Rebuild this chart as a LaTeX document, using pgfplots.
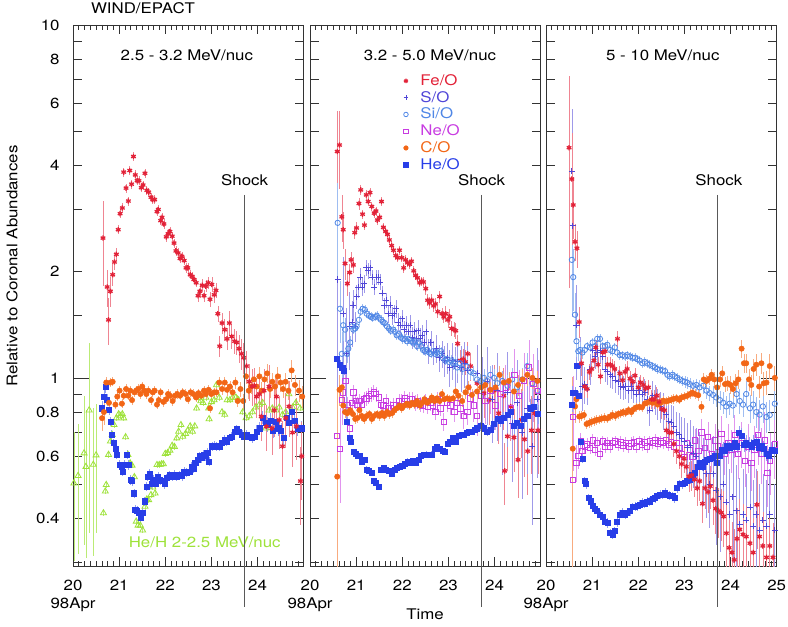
\documentclass[border=0pt]{standalone}
\usepackage{fontspec}
\setmainfont{TeX Gyre Heros}[FakeStretch=1.15]
\usepackage{pgfplots}
\usepackage{pgfplotstable}
\pgfplotsset{compat=1.18}
\definecolor{feo}{RGB}{226,34,56}
\definecolor{so}{RGB}{80,70,215}
\definecolor{sio}{RGB}{80,135,230}
\definecolor{neo}{RGB}{200,60,225}
\definecolor{co}{RGB}{242,102,22}
\definecolor{heo}{RGB}{40,62,232}
\definecolor{heh}{RGB}{158,226,58}
\newcommand\ff{\fontsize{11}{13.5}\selectfont}
\pgfplotsset{
  eb/.style={/pgfplots/error bars/y dir=both, /pgfplots/error bars/y explicit relative,
    /pgfplots/error bars/error mark=none,
    /pgfplots/error bars/error bar style={#1, line width=0.5pt}},
  pfe/.style={only marks, mark=asterisk, color=feo, mark size=2pt, mark options={line width=0.95pt}},
  pso/.style={only marks, mark=+, color=so, mark size=2.3pt, mark options={line width=0.6pt}},
  psi/.style={only marks, mark=o, color=sio, mark size=2pt, mark options={line width=0.6pt}},
  pne/.style={only marks, mark=square, color=neo, mark size=2pt, mark options={line width=0.6pt}},
  pco/.style={only marks, mark=*, color=co, mark size=2pt},
  phe/.style={only marks, mark=square*, color=heo, mark size=1.9pt},
  phh/.style={only marks, mark=triangle, color=heh, mark size=2.6pt, mark options={line width=0.6pt}},
}
\begin{document}
% ---------------- Panel 1 ----------------
\pgfplotstableread{
x y e
20.65 2.49 0.27
20.74 1.81 0.12
20.77 1.46 0.15
20.81 1.76 0.10
20.86 1.96 0.07
20.90 2.13 0.05
20.94 2.24 0.04
20.98 2.63 0.03
21.02 2.92 0.03
21.07 3.03 0.03
21.10 3.83 0.03
21.15 3.45 0.03
21.20 3.17 0.03
21.23 3.87 0.03
21.27 3.54 0.03
21.31 4.24 0.03
21.35 3.76 0.03
21.39 3.62 0.03
21.43 3.62 0.03
21.48 3.46 0.03
21.52 3.52 0.03
21.56 3.80 0.03
21.60 3.40 0.03
21.64 3.36 0.03
21.69 3.25 0.03
21.73 3.20 0.03
21.77 3.20 0.03
21.82 2.96 0.03
21.85 3.00 0.03
21.90 2.79 0.03
21.93 2.85 0.03
21.97 2.73 0.03
22.02 2.51 0.03
22.06 2.56 0.03
22.10 2.60 0.03
22.15 2.52 0.03
22.19 2.41 0.03
22.23 2.29 0.03
22.28 2.26 0.03
22.32 2.18 0.03
22.36 2.21 0.03
22.41 2.15 0.03
22.45 2.05 0.03
22.49 2.05 0.03
22.54 1.96 0.03
22.58 1.94 0.03
22.62 1.90 0.03
22.67 1.86 0.03
22.71 1.71 0.04
22.75 1.76 0.04
22.80 1.83 0.04
22.84 1.71 0.04
22.88 1.82 0.04
22.93 1.86 0.04
22.97 1.67 0.05
23.01 1.84 0.05
23.06 1.72 0.05
23.10 1.77 0.05
23.14 1.52 0.05
23.18 1.23 0.07
23.23 1.43 0.07
23.29 1.37 0.07
23.34 1.29 0.07
23.39 1.43 0.08
23.44 1.31 0.08
23.50 1.27 0.08
23.55 1.26 0.08
23.60 1.21 0.09
23.65 1.17 0.10
23.70 1.14 0.10
23.76 1.08 0.10
23.82 0.976 0.12
23.88 0.945 0.12
23.93 0.95 0.12
23.98 0.885 0.13
24.04 0.90 0.13
24.08 0.777 0.15
24.14 0.92 0.15
24.19 0.728 0.15
24.25 0.945 0.15
24.31 0.72 0.16
24.36 0.81 0.16
24.41 0.885 0.16
24.47 0.76 0.17
24.54 0.64 0.18
24.61 0.77 0.18
24.68 0.83 0.18
24.76 0.70 0.20
24.84 0.73 0.20
24.93 0.51 0.25
24.96 0.60 0.25
}\pOneFe
\pgfplotstableread{
x y e
20.63 0.769 0.08
20.67 0.80 0.08
20.72 0.97 0.04
20.78 0.85 0.04
20.81 0.97 0.03
20.86 0.975 0.03
20.92 0.84 0.03
20.96 0.885 0.03
21.01 0.92 0.03
21.06 0.845 0.03
21.10 0.89 0.03
21.15 0.93 0.03
21.20 0.89 0.03
21.24 0.92 0.03
21.28 0.865 0.03
21.33 0.91 0.03
21.37 0.92 0.03
21.41 0.93 0.03
21.46 0.90 0.03
21.50 0.945 0.03
21.54 0.92 0.03
21.59 0.90 0.03
21.63 0.92 0.03
21.69 0.865 0.03
21.73 0.91 0.03
21.77 0.92 0.03
21.82 0.84 0.03
21.86 0.865 0.03
21.90 0.91 0.03
21.96 0.855 0.03
22.02 0.87 0.03
22.06 0.90 0.03
22.10 0.89 0.03
22.16 0.86 0.03
22.21 0.89 0.03
22.26 0.90 0.03
22.32 0.89 0.03
22.38 0.91 0.03
22.44 0.90 0.03
22.49 0.87 0.03
22.55 0.91 0.03
22.61 0.90 0.03
22.67 0.88 0.03
22.72 0.905 0.03
22.78 0.89 0.03
22.84 0.92 0.03
22.88 0.90 0.03
22.94 0.925 0.03
22.97 0.82 0.03
23.00 0.90 0.03
23.06 0.91 0.03
23.11 0.91 0.03
23.17 0.97 0.04
23.23 0.93 0.04
23.29 0.97 0.04
23.34 0.925 0.04
23.40 0.945 0.04
23.46 0.91 0.04
23.52 0.97 0.04
23.57 0.86 0.04
23.63 0.93 0.05
23.69 0.86 0.05
23.75 1.01 0.05
23.81 0.92 0.05
23.86 0.945 0.05
23.92 0.99 0.05
23.98 0.945 0.05
24.04 1.01 0.06
24.09 0.92 0.06
24.15 0.99 0.06
24.21 1.03 0.06
24.27 0.93 0.06
24.32 0.975 0.06
24.38 0.945 0.06
24.44 1.01 0.06
24.50 0.97 0.06
24.55 0.93 0.06
24.61 0.975 0.06
24.67 0.92 0.06
24.74 1.05 0.07
24.81 0.955 0.07
24.90 0.92 0.07
24.97 0.885 0.07
}\pOneC
\pgfplotstableread{
x y e
20.63 0.82 0.05
20.67 0.885 0.05
20.71 0.945 0.04
20.74 0.866 0.04
20.78 0.81 0.03
20.81 0.751 0.03
20.84 0.69 0.03
20.88 0.653 0.03
20.92 0.63 0.03
20.95 0.606 0.03
21.01 0.567 0.03
21.05 0.56 0.03
21.08 0.543 0.03
21.12 0.567 0.03
21.17 0.606 0.03
21.21 0.567 0.03
21.25 0.514 0.03
21.28 0.51 0.03
21.32 0.471 0.03
21.35 0.423 0.03
21.39 0.42 0.03
21.43 0.415 0.03
21.47 0.401 0.03
21.51 0.415 0.03
21.55 0.447 0.03
21.59 0.492 0.03
21.62 0.525 0.03
21.66 0.535 0.03
21.70 0.50 0.03
21.74 0.514 0.03
21.79 0.50 0.03
21.84 0.525 0.03
21.89 0.514 0.03
21.93 0.51 0.03
21.98 0.50 0.03
22.03 0.52 0.03
22.09 0.53 0.03
22.15 0.525 0.03
22.20 0.533 0.03
22.25 0.525 0.03
22.31 0.53 0.03
22.36 0.527 0.03
22.41 0.543 0.03
22.46 0.54 0.03
22.52 0.543 0.03
22.57 0.56 0.03
22.61 0.554 0.03
22.65 0.573 0.03
22.70 0.586 0.03
22.74 0.60 0.03
22.78 0.593 0.03
22.83 0.606 0.03
22.87 0.60 0.03
22.91 0.613 0.03
22.95 0.58 0.03
23.01 0.64 0.03
23.06 0.643 0.03
23.11 0.638 0.03
23.17 0.64 0.03
23.23 0.653 0.03
23.28 0.668 0.03
23.33 0.66 0.03
23.39 0.675 0.03
23.44 0.682 0.03
23.50 0.705 0.03
23.55 0.716 0.03
23.60 0.705 0.03
23.66 0.69 0.03
23.71 0.682 0.03
23.76 0.69 0.03
23.82 0.682 0.03
23.88 0.675 0.03
23.93 0.682 0.03
23.98 0.705 0.04
24.04 0.72 0.04
24.11 0.773 0.04
24.17 0.745 0.04
24.22 0.738 0.05
24.28 0.755 0.05
24.34 0.71 0.05
24.40 0.75 0.05
24.45 0.72 0.05
24.51 0.71 0.05
24.57 0.675 0.05
24.63 0.773 0.05
24.68 0.745 0.05
24.74 0.80 0.05
24.80 0.755 0.05
24.87 0.72 0.05
24.96 0.72 0.05
}\pOneHe
\pgfplotstableread{
x y e
20.02 0.503 0.40
20.11 0.528 0.40
20.24 0.612 0.45
20.28 0.56 0.45
20.35 0.81 0.55
20.44 0.568 0.45
20.50 0.604 0.40
20.66 0.414 0.02
20.70 0.477 0.02
20.72 0.498 0.02
20.77 0.606 0.02
20.81 0.661 0.02
20.85 0.69 0.02
20.89 0.736 0.02
20.94 0.769 0.02
20.99 0.79 0.02
21.03 0.78 0.02
21.07 0.79 0.02
21.10 0.769 0.02
21.14 0.68 0.02
21.19 0.606 0.02
21.24 0.573 0.02
21.28 0.565 0.02
21.33 0.524 0.02
21.37 0.392 0.02
21.41 0.382 0.02
21.46 0.382 0.02
21.51 0.37 0.02
21.56 0.432 0.02
21.60 0.453 0.02
21.64 0.451 0.02
21.69 0.466 0.02
21.73 0.49 0.02
21.78 0.471 0.02
21.82 0.567 0.02
21.87 0.567 0.02
21.92 0.57 0.02
21.96 0.57 0.02
22.00 0.61 0.02
22.05 0.613 0.02
22.10 0.623 0.02
22.15 0.643 0.02
22.20 0.638 0.02
22.25 0.675 0.02
22.29 0.705 0.02
22.34 0.736 0.02
22.38 0.682 0.02
22.44 0.695 0.02
22.49 0.71 0.02
22.54 0.73 0.02
22.59 0.705 0.02
22.64 0.73 0.02
22.68 0.82 0.02
22.72 0.88 0.02
22.77 0.86 0.02
22.82 0.85 0.02
22.88 0.88 0.02
22.94 0.82 0.02
22.95 0.765 0.02
23.00 0.855 0.02
23.06 0.865 0.02
23.11 0.955 0.02
23.17 0.88 0.02
23.23 0.80 0.02
23.29 0.787 0.02
23.34 0.865 0.02
23.40 0.865 0.02
23.46 0.88 0.02
23.53 0.88 0.02
23.59 0.865 0.02
23.68 0.80 0.02
23.75 0.77 0.02
23.82 0.78 0.02
23.89 0.80 0.02
23.96 0.825 0.02
24.04 0.84 0.02
24.11 0.85 0.02
24.18 0.72 0.02
24.25 0.81 0.02
24.32 0.82 0.02
24.40 0.81 0.02
24.47 0.825 0.02
24.54 0.787 0.02
24.61 0.80 0.02
24.68 0.90 0.02
24.76 0.825 0.02
24.83 0.85 0.02
24.92 0.82 0.02
}\pOneHH
% ---------------- Panel 2 ----------------
\pgfplotstableread{
x y e
20.59 4.38 0.30
20.64 4.57 0.25
20.69 2.86 0.15
20.72 2.63 0.12
20.76 2.11 0.10
20.81 1.85 0.08
20.86 1.99 0.06
20.89 2.16 0.05
20.94 2.09 0.05
20.97 2.58 0.04
21.01 2.66 0.04
21.06 3.12 0.04
21.10 3.41 0.03
21.14 2.91 0.03
21.18 2.71 0.03
21.22 3.30 0.03
21.26 3.16 0.03
21.30 3.35 0.03
21.34 3.06 0.03
21.39 2.93 0.03
21.43 2.97 0.03
21.46 2.80 0.03
21.51 2.85 0.03
21.55 3.16 0.03
21.59 2.67 0.03
21.64 2.60 0.03
21.68 2.55 0.03
21.72 2.46 0.03
21.77 2.37 0.03
21.81 2.30 0.03
21.86 2.22 0.03
21.90 2.19 0.03
21.94 2.30 0.03
21.99 2.19 0.03
22.03 2.05 0.03
22.07 2.16 0.03
22.12 2.12 0.03
22.16 2.10 0.03
22.20 2.14 0.03
22.25 2.01 0.03
22.29 1.95 0.03
22.33 1.92 0.03
22.38 1.86 0.03
22.42 1.88 0.03
22.46 1.87 0.03
22.51 1.79 0.04
22.55 1.66 0.04
22.59 1.63 0.04
22.64 1.66 0.04
22.68 1.60 0.04
22.72 1.62 0.04
22.77 1.54 0.04
22.81 1.70 0.04
22.86 1.52 0.04
22.90 1.49 0.04
22.94 1.52 0.05
22.99 1.46 0.05
23.03 1.49 0.05
23.07 1.38 0.05
23.12 1.37 0.05
23.16 1.36 0.05
23.20 1.25 0.06
23.26 1.12 0.07
23.32 1.13 0.07
23.37 1.11 0.08
23.42 1.17 0.08
23.48 1.08 0.09
23.62 0.966 0.12
23.77 0.905 0.15
23.88 0.866 0.15
23.99 0.92 0.18
24.09 0.794 0.18
24.20 0.89 0.2
24.22 0.545 0.2
24.28 0.683 0.2
24.35 0.83 0.2
24.42 0.678 0.2
24.51 0.586 0.22
24.58 0.76 0.22
24.65 0.67 0.22
24.72 0.62 0.25
24.80 0.71 0.25
24.87 0.794 0.25
24.94 0.71 0.25
}\pTwoFe
\pgfplotstableread{
x y e
20.60 1.90 0.70
20.72 1.52 0.45
20.78 1.17 0.35
20.86 1.40 0.25
20.91 1.44 0.15
20.94 1.61 0.10
20.98 1.40 0.10
21.01 1.70 0.08
21.05 1.81 0.07
21.09 1.93 0.06
21.13 1.81 0.06
21.17 1.85 0.06
21.22 2.05 0.05
21.26 2.01 0.05
21.30 2.05 0.05
21.35 1.93 0.05
21.39 1.81 0.05
21.43 1.93 0.05
21.48 1.93 0.05
21.52 1.87 0.05
21.57 1.74 0.05
21.61 1.60 0.05
21.65 1.66 0.05
21.70 1.52 0.06
21.74 1.61 0.06
21.78 1.50 0.06
21.83 1.52 0.06
21.87 1.57 0.06
21.91 1.44 0.06
21.96 1.41 0.06
22.00 1.47 0.06
22.04 1.37 0.06
22.09 1.41 0.06
22.13 1.35 0.06
22.17 1.41 0.07
22.22 1.30 0.07
22.26 1.35 0.07
22.30 1.29 0.07
22.35 1.36 0.07
22.39 1.29 0.07
22.43 1.32 0.07
22.48 1.26 0.08
22.52 1.35 0.08
22.57 1.19 0.08
22.62 1.26 0.08
22.68 1.18 0.08
22.74 1.21 0.09
22.80 1.14 0.09
22.86 1.17 0.09
22.91 1.12 0.10
22.97 1.14 0.10
23.03 1.07 0.12
23.09 1.12 0.12
23.14 1.08 0.13
23.20 1.11 0.13
23.28 1.07 0.15
23.35 1.10 0.15
23.42 1.05 0.17
23.62 1.03 0.2
23.73 0.94 0.22
23.84 0.98 0.25
23.95 0.87 0.25
24.06 0.92 0.28
24.17 0.76 0.3
24.28 0.91 0.3
24.38 0.745 0.32
24.49 0.85 0.32
24.60 0.70 0.35
24.71 0.82 0.35
24.82 0.64 0.4
24.93 0.87 0.4
}\pTwoS
\pgfplotstableread{
x y e
20.60 2.75 0.30
20.65 1.57 0.20
20.69 1.17 0.15
20.72 1.41 0.10
20.76 1.37 0.08
20.80 1.17 0.06
20.83 1.21 0.05
20.87 1.26 0.04
20.91 1.40 0.03
20.94 1.37 0.03
20.98 1.38 0.03
21.01 1.40 0.03
21.06 1.46 0.03
21.10 1.54 0.03
21.14 1.57 0.03
21.19 1.56 0.03
21.23 1.52 0.03
21.28 1.50 0.03
21.32 1.49 0.03
21.36 1.48 0.03
21.41 1.49 0.03
21.45 1.50 0.03
21.49 1.48 0.03
21.54 1.46 0.03
21.58 1.44 0.03
21.62 1.43 0.03
21.67 1.40 0.03
21.71 1.38 0.03
21.75 1.36 0.03
21.80 1.37 0.03
21.84 1.35 0.03
21.88 1.32 0.03
21.93 1.33 0.03
21.97 1.30 0.03
22.01 1.29 0.03
22.06 1.29 0.03
22.10 1.27 0.03
22.14 1.29 0.03
22.19 1.27 0.03
22.23 1.26 0.03
22.28 1.27 0.03
22.32 1.23 0.03
22.36 1.26 0.03
22.41 1.23 0.03
22.45 1.20 0.03
22.49 1.19 0.03
22.54 1.20 0.03
22.58 1.18 0.03
22.62 1.17 0.03
22.67 1.19 0.03
22.71 1.17 0.03
22.75 1.18 0.03
22.80 1.17 0.03
22.84 1.19 0.03
22.88 1.14 0.03
22.93 1.12 0.03
22.97 1.13 0.03
23.01 1.11 0.04
23.06 1.12 0.04
23.10 1.10 0.04
23.14 1.11 0.04
23.19 1.07 0.04
23.25 1.10 0.04
23.30 1.06 0.04
23.40 1.077 0.05
23.48 1.04 0.05
23.55 1.03 0.05
23.62 0.99 0.05
23.70 0.98 0.05
23.77 1.00 0.06
23.84 0.98 0.06
23.91 1.02 0.06
23.99 1.00 0.06
24.06 0.966 0.07
24.17 0.98 0.07
24.28 0.95 0.07
24.38 0.99 0.08
24.49 0.94 0.08
24.60 0.99 0.08
24.71 1.08 0.09
24.82 0.966 0.09
24.93 0.92 0.1
}\pTwoSi
\pgfplotstableread{
x y e
20.59 0.685 0.30
20.65 0.63 0.30
20.69 0.867 0.15
20.72 0.91 0.08
20.77 0.98 0.06
20.81 0.84 0.05
20.86 0.72 0.05
20.91 0.85 0.05
20.94 0.91 0.05
20.99 0.86 0.05
21.03 0.84 0.05
21.07 0.86 0.05
21.12 0.84 0.05
21.17 0.87 0.05
21.22 0.875 0.05
21.27 0.89 0.05
21.32 0.90 0.05
21.38 0.91 0.05
21.43 0.90 0.05
21.49 0.88 0.05
21.54 0.84 0.05
21.59 0.835 0.05
21.65 0.86 0.05
21.70 0.82 0.05
21.75 0.82 0.05
21.81 0.835 0.05
21.87 0.835 0.05
21.93 0.86 0.05
21.99 0.86 0.05
22.05 0.875 0.05
22.10 0.86 0.05
22.16 0.87 0.05
22.21 0.87 0.05
22.28 0.85 0.05
22.33 0.86 0.05
22.39 0.84 0.05
22.45 0.835 0.05
22.50 0.86 0.05
22.55 0.83 0.05
22.61 0.85 0.05
22.67 0.835 0.05
22.72 0.80 0.05
22.77 0.87 0.05
22.83 0.82 0.05
22.90 0.75 0.06
22.97 0.85 0.06
23.04 0.835 0.06
23.13 0.80 0.06
23.19 0.85 0.07
23.26 0.82 0.07
23.33 0.78 0.08
23.41 0.80 0.08
23.48 0.875 0.1
23.55 0.835 0.1
23.62 0.78 0.12
23.71 0.89 0.12
23.80 0.86 0.14
23.91 0.92 0.14
24.02 0.835 0.15
24.13 0.90 0.15
24.24 0.94 0.16
24.35 0.82 0.16
24.43 1.02 0.18
24.53 0.89 0.18
24.64 0.98 0.2
24.75 1.07 0.2
24.84 0.96 0.22
24.94 0.92 0.22
}\pTwoNe
\pgfplotstableread{
x y e
20.59 0.525 0.80
20.64 0.925 0.10
20.69 0.94 0.06
20.72 0.835 0.05
20.76 0.80 0.04
20.81 0.795 0.03
20.87 0.81 0.03
20.93 0.79 0.03
20.98 0.765 0.03
21.03 0.77 0.03
21.07 0.81 0.03
21.12 0.78 0.03
21.17 0.765 0.03
21.23 0.78 0.03
21.29 0.79 0.03
21.34 0.765 0.03
21.39 0.78 0.03
21.45 0.79 0.03
21.51 0.78 0.03
21.56 0.795 0.03
21.61 0.78 0.03
21.67 0.80 0.03
21.72 0.79 0.03
21.78 0.795 0.03
21.83 0.81 0.03
21.88 0.82 0.03
21.94 0.835 0.03
21.99 0.82 0.03
22.05 0.835 0.03
22.10 0.845 0.03
22.16 0.835 0.03
22.21 0.85 0.03
22.27 0.84 0.03
22.32 0.86 0.03
22.38 0.835 0.03
22.43 0.85 0.03
22.48 0.87 0.03
22.54 0.85 0.03
22.59 0.86 0.03
22.64 0.88 0.03
22.70 0.86 0.03
22.75 0.875 0.03
22.81 0.86 0.03
22.86 0.90 0.03
22.91 0.87 0.03
22.97 0.875 0.03
23.03 0.87 0.03
23.10 0.875 0.03
23.16 0.915 0.03
23.22 0.89 0.04
23.30 0.86 0.04
23.37 0.91 0.04
23.44 0.94 0.04
23.51 0.895 0.04
23.62 0.915 0.05
23.71 0.94 0.05
23.80 0.955 0.05
23.91 0.925 0.05
24.02 0.94 0.06
24.11 1.02 0.06
24.20 0.97 0.06
24.31 0.98 0.06
24.42 0.915 0.06
24.51 0.955 0.07
24.61 0.99 0.07
24.71 1.02 0.07
24.82 1.00 0.07
24.93 0.98 0.07
}\pTwoC
\pgfplotstableread{
x y e
20.59 1.13 0.03
20.65 1.09 0.03
20.70 1.07 0.03
20.74 1.05 0.03
20.80 0.75 0.03
20.86 0.675 0.02
20.89 0.66 0.02
20.94 0.618 0.02
20.99 0.61 0.02
21.03 0.60 0.02
21.07 0.60 0.02
21.12 0.58 0.02
21.18 0.585 0.02
21.23 0.55 0.02
21.28 0.545 0.02
21.33 0.54 0.02
21.39 0.51 0.02
21.43 0.505 0.02
21.49 0.49 0.02
21.54 0.55 0.02
21.59 0.555 0.02
21.65 0.55 0.02
21.71 0.545 0.02
21.77 0.535 0.02
21.83 0.55 0.02
21.88 0.555 0.02
21.94 0.56 0.02
22.00 0.563 0.02
22.06 0.57 0.02
22.12 0.58 0.02
22.17 0.574 0.02
22.23 0.582 0.02
22.29 0.574 0.02
22.35 0.585 0.02
22.41 0.60 0.02
22.46 0.605 0.02
22.52 0.607 0.02
22.58 0.605 0.02
22.64 0.607 0.02
22.70 0.63 0.02
22.75 0.636 0.02
22.81 0.63 0.02
22.87 0.623 0.02
22.93 0.618 0.02
22.99 0.65 0.02
23.04 0.66 0.02
23.10 0.675 0.02
23.16 0.66 0.02
23.22 0.684 0.02
23.28 0.69 0.02
23.33 0.688 0.02
23.39 0.70 0.02
23.45 0.703 0.02
23.51 0.705 0.02
23.57 0.714 0.02
23.62 0.72 0.03
23.70 0.73 0.03
23.77 0.72 0.03
23.84 0.705 0.03
23.91 0.714 0.03
23.99 0.74 0.04
24.06 0.765 0.04
24.13 0.755 0.04
24.20 0.77 0.04
24.28 0.785 0.05
24.35 0.80 0.05
24.42 0.73 0.05
24.49 0.745 0.05
24.57 0.73 0.05
24.64 0.765 0.06
24.71 0.78 0.06
24.78 0.82 0.06
24.86 0.83 0.06
24.94 0.79 0.06
}\pTwoHe
% ---------------- Panel 3 ----------------
\pgfplotstableread{
x y e
20.50 4.49 0.60
20.56 3.66 0.35
20.59 3.09 0.20
20.63 2.43 0.12
20.67 2.33 0.12
20.72 1.44 0.10
20.77 1.10 0.08
20.84 0.945 0.07
20.89 0.93 0.06
20.94 1.04 0.05
20.99 1.06 0.05
21.04 1.12 0.05
21.08 1.22 0.05
21.13 1.09 0.05
21.18 1.01 0.05
21.23 1.18 0.05
21.28 1.19 0.05
21.33 1.09 0.05
21.39 1.09 0.05
21.44 1.08 0.05
21.49 1.06 0.05
21.55 1.29 0.05
21.60 1.03 0.05
21.66 0.985 0.05
21.71 1.04 0.05
21.76 1.06 0.05
21.82 0.995 0.05
21.88 0.975 0.05
21.93 1.015 0.05
22.00 0.94 0.05
22.05 0.97 0.05
22.11 0.955 0.05
22.16 0.935 0.05
22.22 0.94 0.05
22.29 0.87 0.06
22.34 0.87 0.06
22.40 0.89 0.06
22.45 0.855 0.06
22.51 0.816 0.06
22.57 0.81 0.06
22.61 0.71 0.07
22.67 0.70 0.07
22.72 0.70 0.07
22.77 0.65 0.08
22.83 0.62 0.08
22.89 0.60 0.08
22.94 0.57 0.09
22.99 0.59 0.09
23.04 0.56 0.10
23.10 0.526 0.10
23.16 0.53 0.10
23.22 0.515 0.11
23.28 0.487 0.11
23.33 0.51 0.12
23.39 0.44 0.12
23.45 0.487 0.13
23.51 0.475 0.13
23.56 0.493 0.14
23.62 0.45 0.15
23.68 0.426 0.15
23.74 0.42 0.16
23.80 0.415 0.17
23.85 0.405 0.18
23.91 0.363 0.2
23.97 0.33 0.2
24.03 0.32 0.22
24.08 0.305 0.22
24.14 0.35 0.22
24.20 0.372 0.22
24.27 0.36 0.22
24.34 0.355 0.22
24.42 0.34 0.25
24.49 0.32 0.25
24.57 0.437 0.25
24.63 0.355 0.25
24.70 0.334 0.25
24.78 0.31 0.25
24.85 0.334 0.25
24.92 0.31 0.25
}\pThrFe
\pgfplotstableread{
x y e
20.56 3.86 0.50
20.58 2.70 0.45
20.66 1.41 0.30
20.74 1.09 0.20
20.79 0.945 0.15
20.84 0.96 0.12
20.89 0.93 0.10
20.95 1.06 0.10
21.01 1.20 0.08
21.06 1.15 0.08
21.11 1.18 0.08
21.17 1.20 0.08
21.23 1.15 0.08
21.28 1.06 0.08
21.33 1.04 0.08
21.39 1.02 0.08
21.44 1.01 0.08
21.50 0.985 0.08
21.56 0.975 0.08
21.62 0.945 0.08
21.67 0.94 0.08
21.73 0.945 0.08
21.79 0.92 0.08
21.85 0.945 0.08
21.90 0.92 0.08
21.96 0.90 0.08
22.02 0.92 0.09
22.08 0.90 0.09
22.14 0.91 0.09
22.19 0.87 0.09
22.25 0.81 0.1
22.31 0.89 0.1
22.37 0.87 0.1
22.42 0.845 0.1
22.48 0.83 0.1
22.54 0.81 0.12
22.60 0.786 0.12
22.66 0.755 0.12
22.71 0.75 0.12
22.77 0.73 0.14
22.83 0.70 0.14
22.89 0.69 0.15
22.94 0.675 0.15
23.00 0.66 0.17
23.06 0.635 0.17
23.12 0.645 0.18
23.19 0.61 0.2
23.26 0.60 0.2
23.33 0.575 0.22
23.41 0.555 0.22
23.48 0.535 0.25
23.55 0.50 0.25
23.62 0.535 0.28
23.69 0.48 0.3
23.77 0.46 0.3
23.84 0.50 0.32
23.91 0.445 0.35
23.98 0.41 0.35
24.05 0.46 0.35
24.13 0.42 0.35
24.20 0.385 0.35
24.27 0.41 0.35
24.34 0.395 0.35
24.42 0.43 0.35
24.49 0.38 0.35
24.56 0.41 0.35
24.63 0.37 0.35
24.70 0.395 0.35
24.78 0.38 0.35
24.85 0.41 0.35
24.96 0.37 0.35
}\pThrS
\pgfplotstableread{
x y e
20.56 2.16 0.30
20.59 1.93 0.20
20.63 1.51 0.15
20.66 1.27 0.10
20.70 1.19 0.06
20.74 1.20 0.05
20.79 1.18 0.04
20.84 1.20 0.03
20.89 1.23 0.03
20.95 1.22 0.03
21.01 1.26 0.03
21.06 1.23 0.03
21.11 1.29 0.03
21.17 1.29 0.03
21.23 1.23 0.03
21.28 1.23 0.03
21.33 1.24 0.03
21.39 1.20 0.03
21.44 1.19 0.03
21.49 1.22 0.03
21.54 1.18 0.03
21.60 1.16 0.03
21.66 1.16 0.03
21.71 1.15 0.03
21.76 1.16 0.03
21.82 1.15 0.03
21.88 1.14 0.03
21.93 1.14 0.03
21.98 1.13 0.03
22.03 1.12 0.03
22.09 1.10 0.03
22.14 1.11 0.03
22.19 1.10 0.03
22.25 1.09 0.03
22.31 1.08 0.03
22.36 1.07 0.03
22.41 1.06 0.03
22.47 1.055 0.03
22.53 1.05 0.03
22.58 1.045 0.03
22.63 1.02 0.03
22.68 1.01 0.03
22.74 1.02 0.03
22.79 1.01 0.03
22.84 1.00 0.03
22.90 0.99 0.03
22.96 0.98 0.03
23.01 0.975 0.04
23.06 0.97 0.04
23.12 0.96 0.04
23.19 0.95 0.04
23.26 0.955 0.04
23.33 0.94 0.05
23.41 0.95 0.05
23.48 0.92 0.05
23.55 0.905 0.05
23.62 0.895 0.06
23.69 0.88 0.06
23.77 0.865 0.06
23.84 0.85 0.07
23.91 0.83 0.07
23.98 0.845 0.07
24.05 0.835 0.08
24.13 0.90 0.08
24.20 0.86 0.08
24.27 0.84 0.08
24.34 0.90 0.09
24.42 0.82 0.09
24.49 0.84 0.09
24.56 0.80 0.1
24.63 0.787 0.1
24.70 0.83 0.1
24.78 0.775 0.1
24.85 0.785 0.1
24.96 0.845 0.1
}\pThrSi
\pgfplotstableread{
x y e
20.58 0.514 0.70
20.59 0.777 0.30
20.66 0.575 0.12
20.70 0.60 0.08
20.75 0.66 0.06
20.79 0.62 0.05
20.84 0.64 0.04
20.89 0.648 0.04
20.95 0.633 0.04
21.01 0.665 0.04
21.06 0.625 0.04
21.11 0.654 0.04
21.17 0.61 0.04
21.23 0.66 0.04
21.28 0.64 0.04
21.33 0.654 0.04
21.39 0.64 0.04
21.44 0.654 0.04
21.50 0.66 0.04
21.56 0.648 0.04
21.62 0.657 0.04
21.67 0.643 0.04
21.73 0.654 0.04
21.79 0.64 0.04
21.85 0.652 0.04
21.90 0.657 0.04
21.96 0.64 0.04
22.02 0.66 0.04
22.08 0.648 0.04
22.14 0.657 0.04
22.19 0.64 0.04
22.25 0.66 0.04
22.31 0.654 0.04
22.37 0.665 0.04
22.42 0.652 0.04
22.48 0.66 0.04
22.54 0.654 0.04
22.60 0.665 0.04
22.66 0.648 0.04
22.71 0.657 0.04
22.77 0.64 0.05
22.83 0.654 0.05
22.89 0.633 0.05
22.94 0.61 0.06
23.00 0.597 0.06
23.06 0.654 0.07
23.12 0.625 0.07
23.17 0.597 0.08
23.23 0.665 0.08
23.30 0.62 0.09
23.37 0.70 0.09
23.44 0.633 0.1
23.51 0.68 0.1
23.59 0.61 0.11
23.66 0.665 0.11
23.73 0.64 0.12
23.80 0.695 0.12
23.87 0.61 0.13
23.95 0.654 0.13
24.02 0.625 0.14
24.09 0.69 0.14
24.16 0.61 0.15
24.24 0.654 0.15
24.31 0.583 0.16
24.38 0.64 0.16
24.45 0.575 0.17
24.52 0.625 0.17
24.60 0.69 0.18
24.67 0.61 0.18
24.74 0.665 0.2
24.80 0.537 0.2
24.86 0.583 0.2
24.96 0.648 0.2
}\pThrNe
\pgfplotstableread{
x y e
20.58 0.63 0.60
20.63 0.83 0.10
20.66 0.87 0.06
20.72 0.777 0.04
20.77 0.78 0.03
20.82 0.785 0.03
20.88 0.74 0.03
20.93 0.745 0.03
20.98 0.75 0.03
21.04 0.755 0.03
21.10 0.76 0.03
21.15 0.762 0.03
21.21 0.767 0.03
21.27 0.77 0.03
21.33 0.767 0.03
21.39 0.777 0.03
21.44 0.785 0.03
21.50 0.78 0.03
21.56 0.79 0.03
21.62 0.793 0.03
21.67 0.80 0.03
21.73 0.797 0.03
21.79 0.81 0.03
21.85 0.80 0.03
21.90 0.815 0.03
21.96 0.825 0.03
22.02 0.828 0.03
22.08 0.825 0.03
22.14 0.845 0.03
22.19 0.85 0.03
22.25 0.858 0.03
22.31 0.85 0.03
22.37 0.858 0.03
22.42 0.84 0.03
22.48 0.85 0.03
22.54 0.862 0.03
22.60 0.858 0.03
22.66 0.862 0.03
22.71 0.867 0.03
22.77 0.872 0.03
22.83 0.876 0.03
22.89 0.867 0.03
22.94 0.88 0.03
23.00 0.885 0.03
23.06 0.89 0.03
23.12 0.90 0.03
23.17 0.908 0.03
23.23 0.90 0.03
23.30 0.893 0.04
23.37 0.828 0.04
23.42 0.99 0.04
23.48 0.98 0.04
23.54 0.995 0.04
23.59 1.02 0.04
23.65 0.99 0.05
23.71 0.94 0.05
23.77 0.99 0.05
23.82 1.03 0.05
23.88 0.96 0.05
23.94 0.965 0.05
24.00 0.955 0.06
24.05 0.93 0.06
24.11 0.965 0.06
24.17 0.99 0.06
24.24 1.21 0.06
24.29 1.10 0.06
24.34 1.10 0.06
24.40 0.99 0.07
24.45 0.955 0.07
24.50 1.06 0.07
24.56 1.09 0.07
24.62 0.945 0.07
24.67 1.10 0.07
24.72 0.965 0.08
24.78 0.97 0.08
24.85 1.08 0.08
24.96 1.00 0.08
}\pThrC
\pgfplotstableread{
x y e
20.56 0.84 0.05
20.58 0.905 0.05
20.63 0.905 0.04
20.66 1.08 0.04
20.70 0.89 0.03
20.75 0.66 0.03
20.79 0.59 0.03
20.83 0.51 0.03
20.87 0.50 0.03
20.92 0.456 0.03
20.97 0.447 0.03
21.01 0.433 0.03
21.06 0.425 0.03
21.11 0.42 0.03
21.17 0.41 0.03
21.23 0.405 0.03
21.28 0.392 0.03
21.33 0.388 0.03
21.39 0.363 0.03
21.44 0.36 0.03
21.49 0.368 0.03
21.54 0.39 0.03
21.60 0.41 0.03
21.66 0.415 0.03
21.71 0.41 0.03
21.76 0.415 0.03
21.82 0.42 0.03
21.88 0.43 0.03
21.93 0.432 0.03
21.98 0.433 0.03
22.03 0.438 0.03
22.09 0.443 0.03
22.14 0.44 0.03
22.19 0.445 0.03
22.25 0.447 0.03
22.31 0.453 0.03
22.36 0.456 0.03
22.41 0.462 0.03
22.47 0.467 0.03
22.53 0.467 0.03
22.58 0.472 0.03
22.63 0.467 0.03
22.68 0.464 0.03
22.74 0.462 0.03
22.79 0.456 0.03
22.84 0.487 0.03
22.90 0.50 0.03
22.96 0.50 0.03
23.01 0.505 0.03
23.06 0.51 0.03
23.12 0.515 0.03
23.17 0.53 0.03
23.23 0.54 0.03
23.28 0.56 0.03
23.33 0.573 0.03
23.39 0.56 0.03
23.44 0.58 0.03
23.49 0.585 0.03
23.55 0.59 0.03
23.61 0.595 0.03
23.66 0.60 0.04
23.71 0.573 0.04
23.77 0.60 0.04
23.82 0.625 0.04
23.87 0.62 0.04
23.92 0.64 0.04
23.98 0.633 0.04
24.04 0.64 0.04
24.09 0.654 0.04
24.14 0.64 0.04
24.18 0.697 0.05
24.24 0.685 0.05
24.29 0.648 0.05
24.34 0.654 0.05
24.40 0.648 0.05
24.45 0.64 0.05
24.50 0.654 0.05
24.56 0.66 0.05
24.62 0.633 0.05
24.67 0.64 0.05
24.72 0.63 0.05
24.78 0.61 0.05
24.83 0.60 0.05
24.89 0.625 0.05
24.96 0.62 0.05
}\pThrHe
\begin{tikzpicture}
\useasboundingbox (0,0) rectangle (591pt,-470.25pt);
% Panel 1
\begin{axis}[ymode=log, ymin=0.293, ymax=10, xmin=20, xmax=25,
  scale only axis, width=173pt, height=405.75pt, anchor=north west,
  at={(54.75pt,-18.75pt)},
  xtick={20,21,22,23,24,25}, minor x tick num=7,
  ytick={0.3,0.4,0.5,0.6,0.7,0.8,0.9,1,1.5,2,3,4,5,6,7,8,9,10},
  major tick length=6.5pt, minor tick length=4pt,
  extra y ticks={1}, extra y tick labels={}, extra y tick style={major tick length=12pt},
  tick style={black!80, line width=0.5pt},
  axis line style={black!80, line width=0.6pt},
  tick label style={font=\ff},
  xticklabel style={align=center, yshift=-7pt},
  yticklabel style={xshift=-6.5pt},
  yticklabels={,0.4,,0.6,,0.8,,1,,2,,4,,6,,8,,10},
  xticklabels={{20\\98Apr},21,22,23,24,{}}]
\addplot[phh, eb=heh!70] table[y error index=2] {\pOneHH};
\addplot[phe, eb=heo!50] table[y error index=2] {\pOneHe};
\addplot[pco, eb=co!55] table[y error index=2] {\pOneC};
\addplot[pfe, eb=feo!55] table[y error index=2] {\pOneFe};
\node[font=\ff] at (rel axis cs:0.4935,0.9445) {2.5 - 3.2 MeV/nuc};
\node[font=\ff, text=heh] at (rel axis cs:0.571,0.044) {He/H 2-2.5 MeV/nuc};
\end{axis}
% Panel 2
\begin{axis}[ymode=log, ymin=0.293, ymax=10, xmin=20, xmax=25,
  scale only axis, width=173pt, height=405.75pt, anchor=north west,
  at={(232.5pt,-18.75pt)},
  xtick={20,21,22,23,24,25}, minor x tick num=7,
  ytick={0.3,0.4,0.5,0.6,0.7,0.8,0.9,1,1.5,2,3,4,5,6,7,8,9,10},
  major tick length=6.5pt, minor tick length=4pt,
  extra y ticks={1}, extra y tick labels={}, extra y tick style={major tick length=12pt},
  tick style={black!80, line width=0.5pt},
  axis line style={black!80, line width=0.6pt},
  tick label style={font=\ff},
  xticklabel style={align=center, yshift=-7pt},
  yticklabels={},
  xticklabels={{20\\98Apr},21,22,23,24,{}},
  legend style={at={(rel axis cs:0.405,0.912)}, anchor=north west, draw=none, fill=none,
    font=\ff, row sep=0.45pt, column sep=8pt, inner sep=0pt, nodes={inner sep=1.2pt}},
  legend cell align=left,
  legend image code/.code={\draw[#1, mark size=1.7pt] plot coordinates {(0.1cm,0cm)};}]
\addplot[pfe, eb=feo!55] table[y error index=2] {\pTwoFe};
\addlegendentry{\textcolor{feo}{Fe/O}}
\addplot[pso, eb=so!55] table[y error index=2] {\pTwoS};
\addlegendentry{\textcolor{so}{S/O}}
\addplot[psi, eb=sio!55] table[y error index=2] {\pTwoSi};
\addlegendentry{\textcolor{sio}{Si/O}}
\addplot[pne, eb=neo!55] table[y error index=2] {\pTwoNe};
\addlegendentry{\textcolor{neo}{Ne/O}}
\addplot[pco, eb=co!55] table[y error index=2] {\pTwoC};
\addlegendentry{\textcolor{co}{C/O}}
\addplot[phe, eb=heo!50] table[y error index=2] {\pTwoHe};
\addlegendentry{\textcolor{heo}{He/O}}
\node[font=\ff] at (rel axis cs:0.52,0.9445) {3.2 - 5.0 MeV/nuc};
\end{axis}
% Panel 3
\begin{axis}[ymode=log, ymin=0.293, ymax=10, xmin=20, xmax=25,
  scale only axis, width=173pt, height=405.75pt, anchor=north west,
  at={(409.5pt,-18.75pt)},
  xtick={20,21,22,23,24,25}, minor x tick num=7,
  ytick={0.3,0.4,0.5,0.6,0.7,0.8,0.9,1,1.5,2,3,4,5,6,7,8,9,10},
  major tick length=6.5pt, minor tick length=4pt,
  extra y ticks={1}, extra y tick labels={}, extra y tick style={major tick length=12pt},
  tick style={black!80, line width=0.5pt},
  axis line style={black!80, line width=0.6pt},
  tick label style={font=\ff},
  xticklabel style={align=center, yshift=-7pt},
  yticklabels={},
  xticklabels={{20\\98Apr},21,22,23,24,25}]
\addplot[pne, eb=neo!55] table[y error index=2] {\pThrNe};
\addplot[pso, eb=so!55] table[y error index=2] {\pThrS};
\addplot[psi, eb=sio!55] table[y error index=2] {\pThrSi};
\addplot[pco, eb=co!55] table[y error index=2] {\pThrC};
\addplot[phe, eb=heo!50] table[y error index=2] {\pThrHe};
\addplot[pfe, eb=feo!55] table[y error index=2] {\pThrFe};
\node[font=\ff] at (rel axis cs:0.506,0.9445) {5 - 10 MeV/nuc};
\end{axis}
% Shock lines and labels
\draw[black!65, line width=0.6pt] (183.5pt,-146.25pt) -- (183.5pt,-455.25pt);
\node[font=\ff] at (183.5pt,-135pt) {Shock};
\draw[black!65, line width=0.6pt] (361.2pt,-146.25pt) -- (361.2pt,-455.25pt);
\node[font=\ff] at (361.2pt,-135pt) {Shock};
\draw[black!65, line width=0.6pt] (538.2pt,-146.25pt) -- (538.2pt,-455.25pt);
\node[font=\ff] at (539.2pt,-135pt) {Shock};
\node[font=\ff] at (107.25pt,-6pt) {WIND/EPACT};
\node[font=\ff, rotate=90] at (9pt,-199.5pt) {Relative to Coronal Abundances};
\node[font=\ff] at (318.75pt,-460.5pt) {Time};
\end{tikzpicture}
\end{document}
